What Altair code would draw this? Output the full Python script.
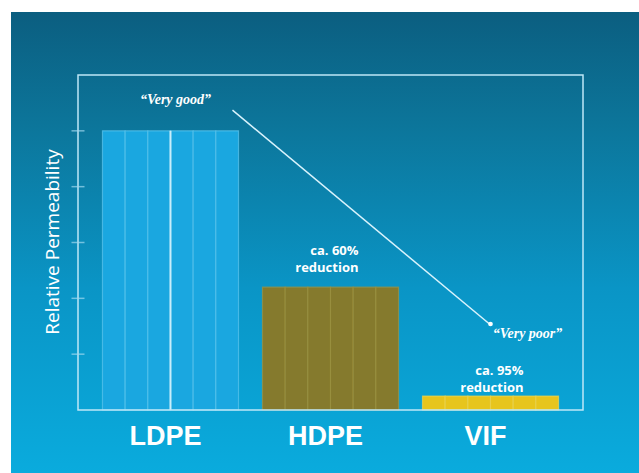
import altair as alt
import pandas as pd

# ---- data ----
categories = ["LDPE", "HDPE", "VIF"]
values = [5.0, 2.2, 0.25]
reduction_labels = ["", "ca. 60%\nreduction", "ca. 95%\nreduction"]
y_ticks = [1, 2, 3, 4, 5]
rating_good = "\u201cVery good\u201d"
rating_poor = "\u201cVery poor\u201d"
rating_good_level = 5.55
rating_poor_level = 1.36
arrow_from_level = 5.37
arrow_to_level = 1.54
segments = list(range(6))

fills = ["#1aa7e0", "#857a2d", "#e7c51d"]
strokes = ["#5cc4ec", "#a0933f", "#f0d44e"]

W, H = 505, 335

bar_df = pd.DataFrame(
    [{"cat": c, "seg": s, "value": v} for c, v in zip(categories, values) for s in segments]
)
val_df = pd.DataFrame({"cat": categories, "value": values, "label": reduction_labels})
tick_df = pd.DataFrame({"t": y_ticks})
arrow_df = pd.DataFrame(
    {"from": ["LDPE"], "to": ["VIF"], "y1": [arrow_from_level], "y2": [arrow_to_level]}
)
one = pd.DataFrame({"a": [0]})

xscale = alt.Scale(domain=categories, paddingInner=0.15, paddingOuter=0.153)
yscale = alt.Scale(domain=[0, 6], nice=False)

x_enc = alt.X(
    "cat:N",
    sort=categories,
    scale=xscale,
    axis=alt.Axis(
        title="",
        labelAngle=0,
        labelFont="Liberation Sans",
        labelFontWeight="bold",
        labelFontSize=27,
        labelColor="#ffffff",
        labelPadding=13,
        labelOffset=-5,
        ticks=False,
        domain=False,
        zindex=2,
    ),
)
y_enc = alt.Y(
    "value:Q",
    stack=False,
    scale=yscale,
    axis=alt.Axis(
        title="Relative Permeability",
        titleFont="Open Sans",
        titleFontWeight="normal",
        titleFontSize=19,
        titleColor="#ffffff",
        titleX=-26,
        titleY=H / 2 - 1,
        titleAngle=-90,
        titleAlign="center",
        titleBaseline="middle",
        labels=False,
        ticks=False,
        domain=False,
        grid=False,
        zindex=2,
    ),
)

background = alt.Chart(one).mark_rect(
    color=alt.LinearGradient(
        gradient="linear",
        x1=0, y1=0, x2=0, y2=1,
        stops=[
            alt.GradientStop(offset=0, color="#0b5e80"),
            alt.GradientStop(offset=0.25, color="#0c769b"),
            alt.GradientStop(offset=0.6, color="#0a95c6"),
            alt.GradientStop(offset=1, color="#0aabdd"),
        ],
    )
).encode(
    x=alt.value(-67), x2=alt.value(W + 56), y=alt.value(-63), y2=alt.value(H + 63)
)

bars = alt.Chart(bar_df).mark_bar(strokeWidth=1.2, strokeOpacity=0.7).encode(
    x=x_enc,
    xOffset=alt.XOffset("seg:N", scale=alt.Scale(paddingInner=0, paddingOuter=0)),
    y=y_enc,
    color=alt.Color("cat:N", scale=alt.Scale(domain=categories, range=fills), legend=None),
    stroke=alt.Stroke("cat:N", scale=alt.Scale(domain=categories, range=strokes), legend=None),
)

center_line = alt.Chart(val_df).transform_filter(alt.datum.cat == "LDPE").mark_rule(
    color="#c8eefb", strokeWidth=2
).encode(x=alt.X("cat:N", scale=xscale), y=alt.Y("value:Q", scale=yscale), y2=alt.datum(0))

red_hdpe = alt.Chart(val_df).transform_filter(alt.datum.cat == "HDPE").mark_text(
    color="#ffffff", font="Open Sans", fontWeight="bold", fontSize=13,
    align="right", baseline="bottom", lineBreak="\n", lineHeight=17, dx=28, dy=-29,
).encode(x=alt.X("cat:N", scale=xscale), y=alt.Y("value:Q", scale=yscale), text="label:N")

red_vif = alt.Chart(val_df).transform_filter(alt.datum.cat == "VIF").mark_text(
    color="#ffffff", font="Open Sans", fontWeight="bold", fontSize=13,
    align="right", baseline="bottom", lineBreak="\n", lineHeight=17, dx=33, dy=-18,
).encode(x=alt.X("cat:N", scale=xscale), y=alt.Y("value:Q", scale=yscale), text="label:N")

good = alt.Chart(pd.DataFrame({"cat": ["LDPE"], "y": [rating_good_level], "t": [rating_good]})).mark_text(
    color="#ffffff", font="Liberation Serif", fontStyle="italic", fontWeight="bold", fontSize=14, dx=5
).encode(x=alt.X("cat:N", scale=xscale), y=alt.Y("y:Q", scale=yscale), text="t:N")

poor = alt.Chart(pd.DataFrame({"cat": ["VIF"], "y": [rating_poor_level], "t": [rating_poor]})).mark_text(
    color="#ffffff", font="Liberation Serif", fontStyle="italic", fontWeight="bold", fontSize=14, dx=37
).encode(x=alt.X("cat:N", scale=xscale), y=alt.Y("y:Q", scale=yscale), text="t:N")

arrow = alt.Chart(arrow_df).mark_rule(color="#d9f3fc", strokeWidth=1.5, xOffset=62, x2Offset=-1).encode(
    x=alt.X("from:N", scale=xscale), x2="to:N",
    y=alt.Y("y1:Q", scale=yscale), y2="y2:Q",
)
dot = alt.Chart(arrow_df).mark_circle(color="#ffffff", size=22, opacity=1).encode(
    x=alt.X("to:N", scale=xscale), y=alt.Y("y2:Q", scale=yscale)
)

frame = alt.Chart(one).mark_rect(fillOpacity=0, stroke="#bfe8f7", strokeWidth=1.5).encode(
    x=alt.value(0), x2=alt.value(W), y=alt.value(0), y2=alt.value(H)
)

ticks = alt.Chart(tick_df).mark_tick(color="#9fd9ef", size=13, thickness=1.5).encode(
    y=alt.Y("t:Q", scale=yscale), x=alt.value(0)
)

chart = alt.layer(
    background, bars, center_line, frame, ticks, arrow, dot, good, poor, red_hdpe, red_vif
).properties(
    width=W,
    height=H,
    autosize=alt.AutoSizeParams(type="none"),
    padding={"left": 78, "top": 75, "right": 56, "bottom": 63},
    background="#ffffff",
).configure_view(strokeWidth=0)

chart.save("out.html", embed_options={"renderer": "svg", "actions": False})
